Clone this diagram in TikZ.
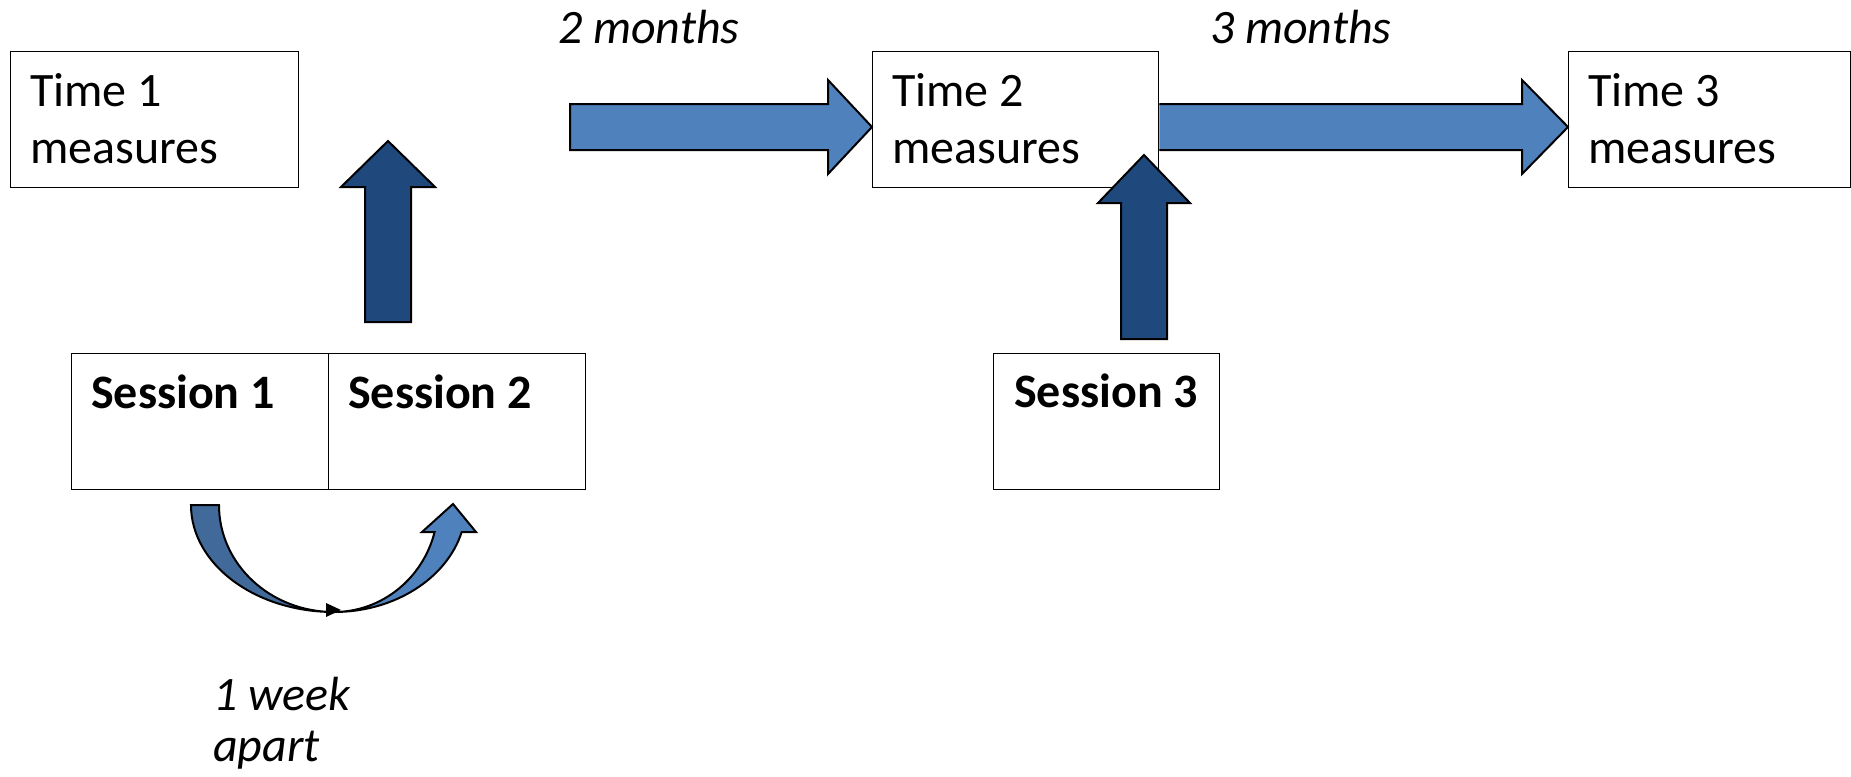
\documentclass[tikz,border=0pt]{standalone}
\usepackage{fontspec}
\setmainfont{Carlito}
\definecolor{arrowlight}{RGB}{79,129,189}
\definecolor{arrowdark}{RGB}{31,73,125}
\definecolor{curvedark}{RGB}{65,105,154}
\begin{document}
\begin{tikzpicture}[x=1pt,y=-1pt,
  box/.style={draw=black,line width=1.4pt,fill=white,rectangle,inner sep=0pt,anchor=north west},
  label/.style={anchor=base west,inner sep=0pt,font=\fontsize{48}{58}\selectfont},
  slabel/.style={label,font=\fontsize{48}{58}\selectfont\bfseries},
  ilabel/.style={label,font=\fontsize{48}{58}\selectfont\itshape},
  blockarrow/.style={draw=black,line width=2pt,line join=miter}]
\useasboundingbox (0,0) rectangle (1851,776);

% measurement boxes
\node[box,minimum width=288pt,minimum height=136pt] (t1) at (10,51) {};
\node[box,minimum width=286pt,minimum height=136pt] (t2) at (872,51) {};
\node[box,minimum width=282pt,minimum height=136pt] (t3) at (1568,51) {};

% session boxes
\node[box,minimum width=257pt,minimum height=136pt] (s1) at (71,353) {};
\node[box,minimum width=257pt,minimum height=136pt] (s2) at (328,353) {};
\node[box,minimum width=226pt,minimum height=136pt] (s3) at (993,353) {};

% horizontal block arrows between the measurement boxes
\fill[arrowlight,blockarrow] (570,104) -- (828,104) -- (828,80) -- (t2.west |- 0,127)
  -- (828,174) -- (828,150) -- (570,150) -- cycle;
\fill[arrowlight,blockarrow] (t2.east |- 0,104) -- (1522,104) -- (1522,80) -- (t3.west |- 0,127)
  -- (1522,174) -- (1522,150) -- (t2.east |- 0,150);

% vertical block arrows from the sessions
\fill[arrowdark,blockarrow] (365,322) -- (365,187) -- (341,187) -- (388,141)
  -- (435,187) -- (411,187) -- (411,322) -- cycle;
\fill[arrowdark,blockarrow] (1121,339) -- (1121,203) -- (1098,203) -- (1144,155)
  -- (1190,203) -- (1167,203) -- (1167,339) -- cycle;

% curved arrow from session 1 to session 2
\fill[curvedark,blockarrow] (191,505) .. controls (191,564) and (255,612) .. (334,612)
  .. controls (270,612) and (219,564) .. (219,505) -- cycle;
\fill[arrowlight,blockarrow] (334,612) .. controls (394,612) and (446.5,579) .. (461.7,532)
  -- (476,532) -- (453,504) -- (422,532) -- (434.6,532)
  .. controls (422.7,579) and (381.3,612) .. (334,612) -- cycle;
\fill[black] (326,603) -- (341,610) -- (326,617) -- cycle;

% texts
\node[label] (t1a) at (30,106) {Time 1};
\node[label] (t1b) at (30,163) {measures};
\node[label] (t2a) at (892,106) {Time 2};
\node[label] (t2b) at (892,163) {measures};
\node[label] (t3a) at (1588,106) {Time 3};
\node[label] (t3b) at (1588,163) {measures};
\node[slabel] (s1l) at (91,408) {Session 1};
\node[slabel] (s2l) at (348,408) {Session 2};
\node[slabel] (s3l) at (1014,407) {Session 3};
\node[ilabel] (m2) at (558,44) {2 months};
\node[ilabel] (m3) at (1210,44) {3 months};
\node[ilabel] (wk1) at (213,710) {1 week};
\node[ilabel] (wk2) at (213,761) {apart};
\end{tikzpicture}
\end{document}
